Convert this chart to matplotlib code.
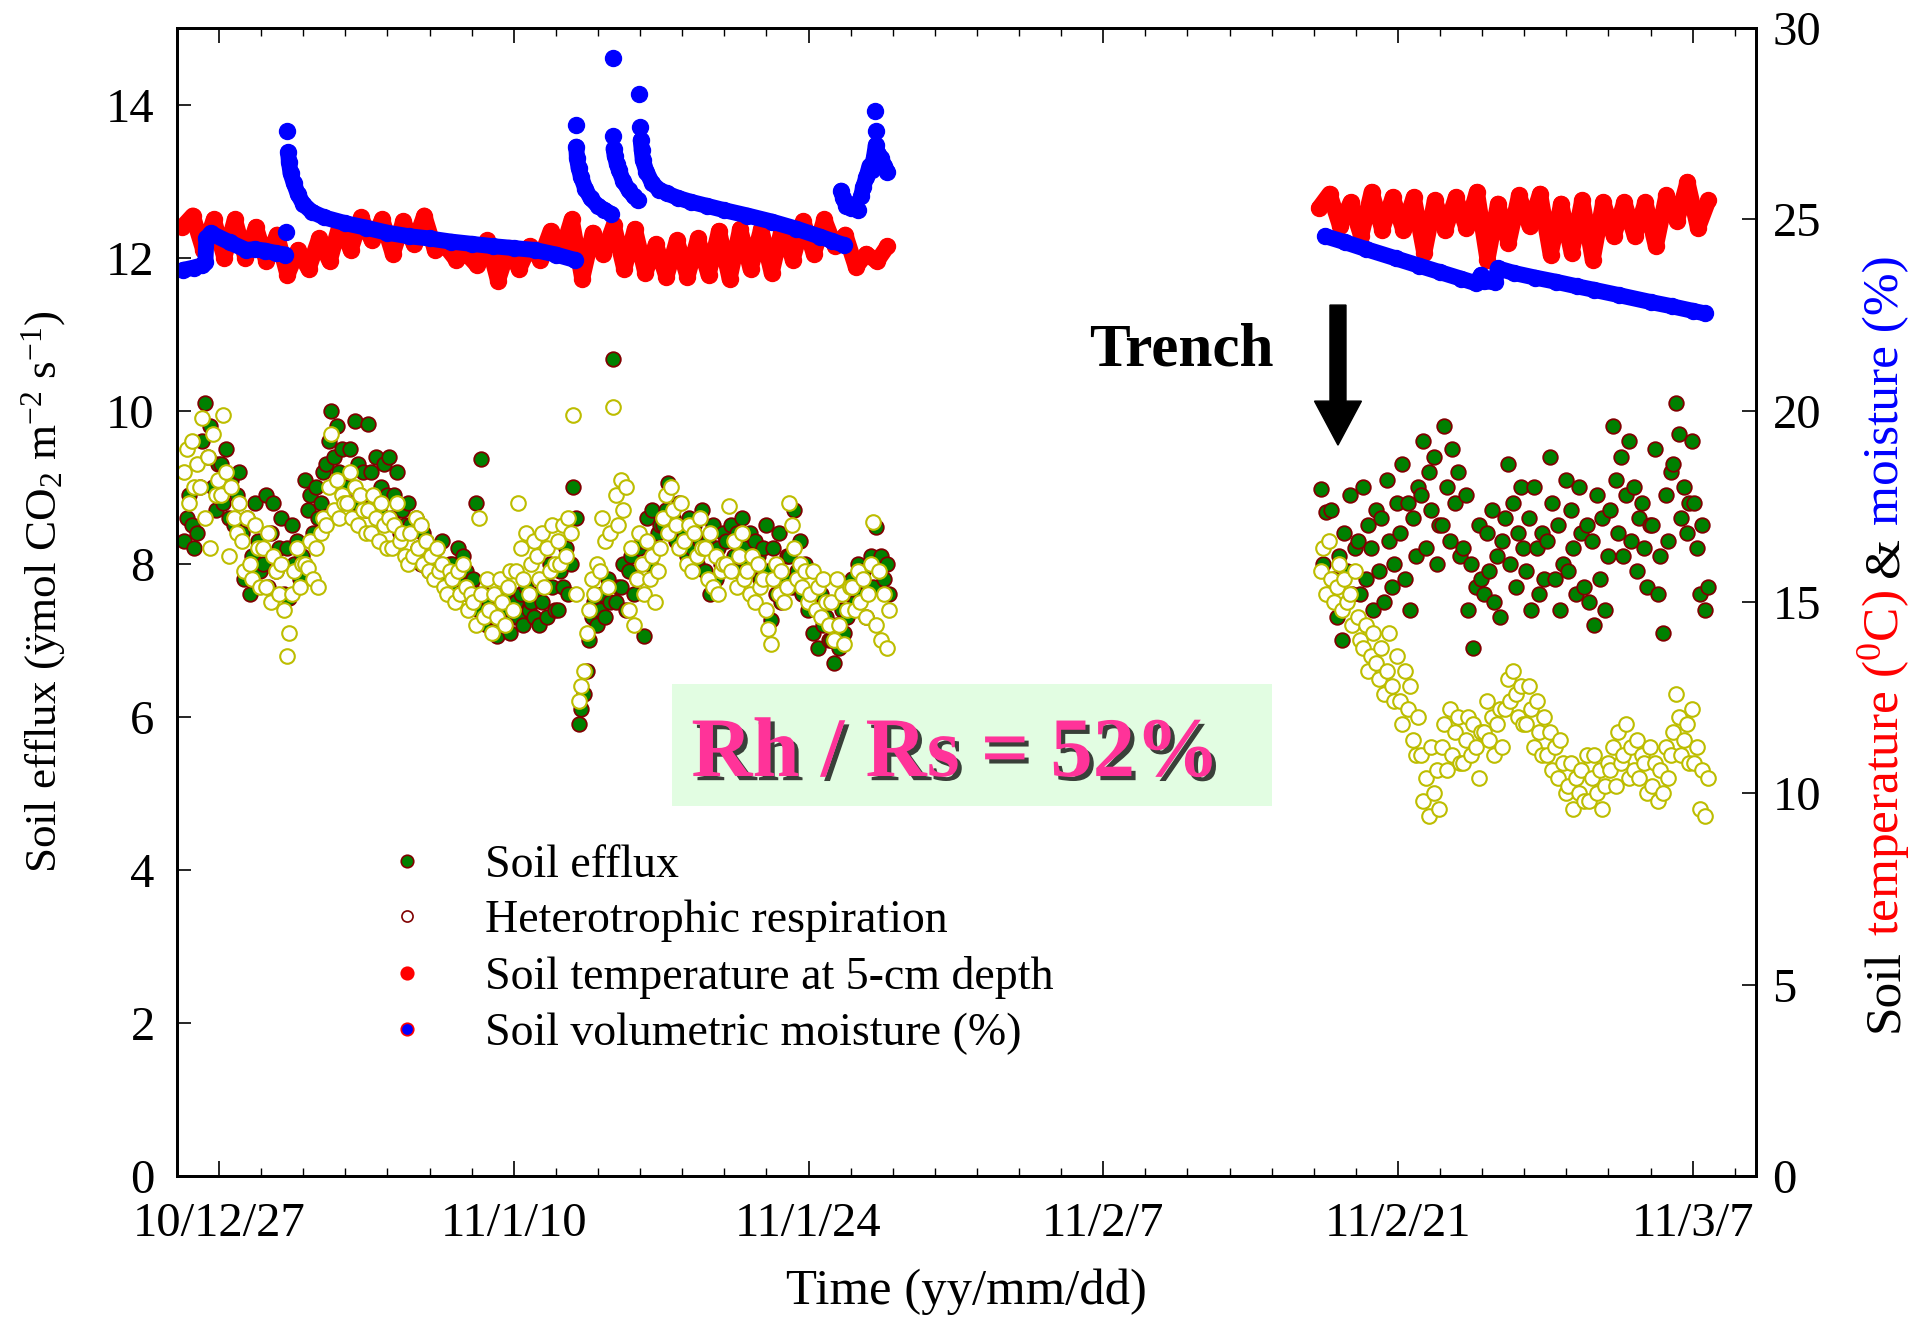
import numpy as np
import matplotlib
matplotlib.use("Agg")
import matplotlib.pyplot as plt
import matplotlib.dates as mdates
import matplotlib.patheffects as pe
from matplotlib.lines import Line2D
from matplotlib.patches import Rectangle, FancyArrow
from matplotlib.ticker import FixedLocator, FuncFormatter

plt.rcParams['font.family'] = ['Liberation Serif', 'DejaVu Serif']
plt.rcParams['mathtext.fontset'] = 'custom'
plt.rcParams['mathtext.rm'] = 'Liberation Serif'
plt.rcParams['mathtext.it'] = 'Liberation Serif:italic'
plt.rcParams['mathtext.bf'] = 'Liberation Serif:bold'

nan = np.nan

# day 0 of the record = 2010-12-25 00:00
start_date = '2010-12-25'

# soil temperature at 5 cm (deg C), one reading every 12 h from 06:00
temp_1 = [24.8,
          25.1, 24.2, 25.0, 24.0, 25.0, 24.0, 24.8, 23.9, 24.6, 23.55,
          24.2, 23.7, 24.5, 23.9, 24.9, 24.2, 25.05, 24.45, 25.0, 24.1,
          24.95, 24.35, 25.1, 24.2, 24.3, 23.95, 24.1, 23.8, 24.45, 23.4,
          24.25, 23.7, 24.3, 23.95, 24.7, 24.1, 25.0, 23.45, 24.65, 24.1,
          24.85, 23.7, 24.75, 23.6, 24.35, 23.5, 24.45, 23.5, 24.5, 23.55,
          24.7, 23.45, 24.75, 23.7, 24.75, 23.6, 24.8, 23.95, 24.95, 24.1,
          25.0, 24.3, 24.6, 23.75, 24.1, 23.9,
          24.3]
temp_1_start = 0.25
temp_2 = [25.3,
          25.67, 24.82, 25.45, 24.56, 25.72, 24.73, 25.58, 24.73, 25.58, 24.12,
          25.5, 24.73, 25.58, 24.77, 25.72, 23.95, 25.41, 24.38, 25.63, 24.82,
          25.67, 24.08, 25.41, 24.12, 25.5, 23.95, 25.45, 24.56, 25.45, 24.56,
          25.45, 24.3, 25.63, 24.95, 25.98, 24.77, 25.5]
temp_2_start = 54.25

# soil volumetric moisture (%), irregular record; nan separates the runs
moist_day_1 = [0.3, 0.8, 1.2, 1.35, 1.4, 1.6, 2.5, 3.3, 3.7, 4.2, 4.7, 5.15, nan,
               5.2, nan,
               5.25, nan,
               5.28, 5.32, 5.4, 5.55, 5.75, 6.0, 6.4, 7.0, 8.0, 9.0, 10.0, 11.0,
               12.0, 13.0, 14.0, 15.0, 16.0, 17.0, 18.0, 18.9, nan,
               18.95, nan,
               18.97, 19.0, 19.08, 19.2, 19.4, 19.65, 20.0, 20.3, 20.6, nan,
               20.7, nan,
               20.72, nan,
               20.74, 20.8, 20.9, 21.0, 21.2, 21.45, 21.7, 21.9, nan,
               21.97, nan,
               22.0, nan,
               22.03, 22.08, 22.13, 22.3, 22.58, 22.9, 23.27, 23.8, 24.4, 25.2,
               26.0, 27.1, 28.27, 29.4, 30.54, 31.1, 31.68, nan,
               31.55, 31.65, 31.8, 32.0, 32.2, 32.35, nan,
               32.5, 32.6, 32.75, 32.9, 33.0, 33.1, 33.2, 33.3, 33.45, 33.6, 33.75, nan,
               33.2, nan,
               33.15]
moist_1 = [23.68, 23.74, 23.8, 23.88, 24.5, 24.64, 24.4, 24.2, 24.22, 24.18, 24.12, 24.08, nan,
           24.68, nan,
           27.31, nan,
           26.75, 26.5, 26.2, 25.95, 25.65, 25.4, 25.2, 25.05, 24.9, 24.78, 24.65, 24.56,
           24.5, 24.42, 24.36, 24.3, 24.25, 24.2, 24.08, 23.94, nan,
           27.47, nan,
           26.9, 26.6, 26.35, 26.1, 25.8, 25.55, 25.35, 25.25, 25.15, nan,
           29.23, nan,
           27.18, nan,
           26.85, 26.65, 26.45, 26.28, 26.0, 25.77, 25.6, 25.5, nan,
           28.28, nan,
           27.42, nan,
           27.07, 26.8, 26.55, 26.25, 25.94, 25.78, 25.68, 25.56, 25.46, 25.35,
           25.24, 25.1, 24.94, 24.76, 24.55, 24.44, 24.33, nan,
           25.75, 25.55, 25.35, 25.3, 25.4, 25.25, nan,
           25.6, 25.85, 26.1, 26.4, 26.3, 26.6, 26.95, 26.7, 26.6, 26.4, 26.25, nan,
           27.3, nan,
           27.83]
moist_day_2 = [54.55, 55.5, 56.5, 57.9, 59.0, 60.0, 61.0, 61.7, 61.95, 62.1, 62.6,
               62.75, 63.5, 64.5, 65.5, 66.5, 67.3, 68.5, 70.0, 71.0, 72.0, 72.6]
moist_2 = [24.56, 24.4, 24.22, 23.98, 23.79, 23.62, 23.45, 23.33, 23.55, 23.38, 23.36,
           23.72, 23.6, 23.48, 23.37, 23.25, 23.16, 23.02, 22.84, 22.73, 22.61, 22.54]

# soil efflux (Rs) and heterotrophic respiration (Rh), every 3 h from 08:00
rs_1 = [8.3, 8.6, 8.9, 8.5, 8.2, 8.4,
        9.0, 9.6, 10.1, 9.4, 9.8, 9.0, 8.7, 9.3,
        9.3, 8.8, 9.5, 8.6, 9.1, 8.5, 8.9, 9.2,
        8.4, 7.8, 8.6, 7.6, 8.1, 8.8, 8.3, 7.9,
        8.0, 8.9, 7.7, 8.4, 8.8, 7.9, 8.2, 8.6,
        7.6, 8.2, 7.55, 8.5, 8.0, 8.3, 7.8, 8.1,
        9.1, 8.7, 8.9, 8.4, 9.0, 8.6, 8.8, 9.2,
        9.3, 9.6, 10.0, 9.4, 9.8, 9.2, 9.5, 9.0,
        9.0, 9.5, 8.8, 9.86, 9.3, 8.9, 9.2, 8.7,
        9.83, 9.2, 8.8, 9.4, 8.7, 9.0, 9.3, 8.9,
        9.4, 8.6, 8.9, 9.2, 8.4, 8.7, 8.5, 8.8,
        8.5, 8.1, 8.6, 8.2, 8.0, 8.4, 8.3, 7.9,
        8.1, 7.9, 8.2, 8.0, 8.3, 7.95, 7.8, 8.0,
        8.0, 7.7, 8.2, 7.8, 8.1, 7.9, 7.6, 7.7,
        7.8, 8.8, 7.4, 9.37, 7.6, 7.2, 7.5, 7.3,
        7.3, 7.05, 7.5, 7.2, 7.6, 7.4, 7.1, 7.3,
        7.5, 7.3, 7.6, 7.2, 7.7, 7.4, 7.5, 7.3,
        7.6, 7.2, 7.5, 7.8, 7.3, 8.0, 7.7, 7.4,
        7.4, 7.9, 7.7, 8.2, 7.6, 8.0, 9.0, 8.6,
        5.9, 6.1, 6.3, 6.6, 7.0, 7.3, 7.5, 7.2,
        7.4, 7.6, 7.3, 7.8, 7.5, 10.68, 7.5, 7.7,
        7.7, 8.0, 7.4, 7.9, 8.1, 7.6, 7.8, 8.2,
        8.3, 7.05, 8.6, 8.0, 8.7, 8.2, 8.4, 8.5,
        8.5, 8.7, 9.05, 8.4, 8.6, 8.3, 8.8, 8.2,
        8.4, 8.1, 8.6, 8.2, 8.5, 8.0, 8.3, 8.7,
        7.9, 8.3, 7.6, 8.5, 7.8, 8.2, 8.0, 8.4,
        8.3, 8.0, 8.5, 8.1, 8.4, 7.9, 8.6, 8.2,
        8.0, 8.4, 7.9, 8.3, 8.1, 7.8, 8.2, 8.5,
        7.9, 7.26, 8.2, 7.6, 8.4, 7.5, 7.8, 8.1,
        8.1, 7.7, 8.7, 7.9, 8.3, 7.6, 8.0, 7.4,
        7.5, 7.1, 7.4, 6.9, 7.6, 7.2, 7.3, 7.0,
        7.0, 6.7, 7.2, 6.9, 7.4, 7.1, 7.3, 7.6,
        7.8, 7.5, 8.0, 7.6, 7.9, 7.3, 7.7, 8.1,
        7.7, 8.48, 7.9, 8.1, 7.8, 8.0, 7.6]
rh_1 = [9.2, 9.5, 8.8, 9.6, 9.0, 9.3,
        9.0, 9.9, 8.6, 9.4, 8.2, 9.7, 8.9, 9.1,
        8.9, 9.95, 9.2, 8.1, 9.0, 8.6, 8.4, 8.8,
        8.3, 7.9, 8.6, 8.0, 7.8, 8.5, 8.2, 7.7,
        8.2, 7.7, 8.4, 7.5, 8.1, 7.9, 7.6, 8.0,
        7.4, 6.8, 7.1, 7.6, 7.9, 8.2, 7.7, 8.0,
        8.0, 7.95, 8.3, 7.8, 8.2, 7.7, 8.4, 8.6,
        8.5, 9.0, 9.7, 8.7, 9.1, 8.6, 8.9, 8.8,
        8.8, 9.2, 8.6, 9.0, 8.5, 8.9, 8.7, 8.4,
        8.7, 8.4, 8.9, 8.6, 8.3, 8.8, 8.5, 8.2,
        8.6, 8.2, 8.5, 8.8, 8.3, 8.4, 8.1, 8.0,
        8.4, 8.1, 8.6, 8.2, 8.5, 8.0, 8.3, 7.9,
        8.1, 7.8, 8.2, 7.9, 8.0, 7.7, 7.6, 7.9,
        7.8, 7.5, 7.9, 7.6, 8.0, 7.7, 7.4, 7.6,
        7.5, 7.2, 8.6, 7.6, 7.3, 7.8, 7.4, 7.1,
        7.6, 7.3, 7.8, 7.5, 7.2, 7.7, 7.9, 7.4,
        7.9, 8.8, 8.2, 7.8, 8.4, 7.6, 8.0, 8.3,
        8.1, 7.8, 8.4, 7.7, 8.2, 7.9, 8.5, 8.0,
        8.3, 8.0, 8.5, 8.1, 8.6, 8.4, 9.95, 7.6,
        6.2, 6.4, 6.6, 7.1, 7.4, 7.8, 7.6, 8.0,
        7.9, 8.6, 8.3, 7.7, 8.4, 10.05, 8.9, 8.5,
        9.1, 8.7, 9.0, 7.4, 8.2, 7.2, 7.8, 8.4,
        8.0, 7.6, 8.3, 7.8, 8.1, 7.5, 7.9, 8.2,
        8.6, 8.9, 8.4, 9.0, 8.7, 8.5, 8.2, 8.8,
        8.3, 8.0, 8.5, 7.9, 8.4, 8.1, 8.6, 8.2,
        8.2, 7.8, 8.4, 7.7, 8.1, 7.6, 7.9, 8.0,
        8.0, 8.75, 7.9, 8.3, 7.7, 8.1, 8.4, 7.8,
        7.9, 7.6, 8.1, 7.5, 8.0, 7.7, 7.8, 7.4,
        7.15, 6.95, 7.8, 8.0, 7.6, 7.9, 7.5, 7.7,
        8.8, 8.5, 8.2, 7.8, 8.0, 7.7, 7.9, 7.5,
        7.6, 7.9, 7.4, 7.7, 7.3, 7.8, 7.5, 7.2,
        7.5, 7.0, 7.8, 7.2, 7.6, 6.95, 7.4, 7.7,
        7.7, 7.4, 7.9, 7.5, 7.8, 7.3, 7.6, 8.0,
        8.55, 7.2, 7.9, 7.0, 7.6, 6.9, 7.4]
flux_1_start = 8 / 24

rs_2 = [8.98, 8.0, 8.68, 7.6, 8.7, 7.8,
        7.3, 8.1, 7.0, 8.4, 7.9, 8.9, 7.6, 8.2,
        8.3, 7.6, 9.0, 7.8, 8.5, 8.2, 7.4, 8.7,
        7.9, 8.6, 7.5, 9.1, 8.3, 7.7, 8.0, 8.8,
        8.4, 9.3, 7.8, 8.8, 7.4, 8.6, 8.1, 9.0,
        8.9, 9.6, 8.2, 9.2, 8.7, 9.4, 8.0, 8.5,
        8.5, 9.8, 9.0, 8.3, 9.5, 8.8, 9.2, 8.1,
        8.2, 8.9, 7.4, 8.0, 6.9, 7.7, 8.5, 7.8,
        7.6, 8.4, 7.9, 8.7, 7.5, 8.1, 7.3, 8.3,
        8.6, 9.3, 8.0, 8.8, 7.7, 8.4, 9.0, 8.2,
        7.9, 8.6, 7.4, 9.0, 8.2, 7.6, 8.4, 7.8,
        8.3, 9.4, 8.8, 7.8, 8.5, 7.4, 8.0, 9.1,
        7.9, 8.7, 8.2, 7.6, 9.0, 8.4, 7.7, 8.5,
        7.5, 8.3, 7.2, 8.9, 7.8, 8.6, 7.4, 8.1,
        8.7, 9.8, 9.1, 8.4, 9.4, 8.1, 8.9, 9.6,
        8.3, 9.0, 7.9, 8.6, 8.8, 8.2, 7.7, 8.5,
        8.5, 9.5, 7.6, 8.1, 7.1, 8.9, 8.3, 9.2,
        9.3, 10.1, 9.7, 8.6, 9.0, 8.4, 8.8, 9.6,
        8.8, 8.2, 7.6, 8.5, 7.4, 7.7]
rh_2 = [7.9, 8.2, 7.6, 8.3, 7.8, 7.5,
        7.7, 8.0, 7.4, 7.8, 7.5, 7.6, 7.2, 7.9,
        7.3, 7.0, 6.9, 7.2, 6.6, 6.8, 7.1, 6.7,
        6.5, 6.9, 6.3, 6.6, 7.1, 6.4, 6.2, 6.8,
        6.2, 5.9, 6.6, 6.1, 6.4, 5.7, 5.5, 6.0,
        5.5, 4.9, 5.2, 4.7, 5.6, 5.0, 5.3, 4.8,
        5.6, 5.9, 5.3, 6.1, 5.5, 5.8, 6.0, 5.4,
        5.4, 5.7, 6.0, 5.5, 5.9, 5.6, 5.2, 5.8,
        5.8, 6.2, 5.7, 6.0, 5.5, 5.9, 6.1, 5.6,
        6.1, 6.5, 6.2, 6.6, 6.3, 6.0, 6.4, 5.9,
        5.9, 6.4, 6.1, 5.6, 6.2, 5.8, 5.5, 6.0,
        5.5, 5.8, 5.3, 5.6, 5.2, 5.7, 5.4, 5.0,
        5.1, 5.4, 4.8, 5.2, 5.0, 5.3, 4.9, 5.5,
        4.9, 5.2, 5.5, 5.0, 5.3, 4.8, 5.1, 5.4,
        5.3, 5.6, 5.1, 5.8, 5.4, 5.5, 5.9, 5.2,
        5.6, 5.3, 5.7, 5.2, 5.5, 5.4, 5.0, 5.6,
        5.1, 5.4, 4.9, 5.3, 5.0, 5.6, 5.2, 5.5,
        5.8, 6.3, 6.0, 5.5, 5.7, 5.9, 5.4, 6.1,
        5.4, 5.6, 4.8, 5.3, 4.7, 5.2]
flux_2_start = 54 + 8 / 24

trench_day = 55.15

GREEN = '#008000'
MAROON = '#800000'
OLIVE = '#bdbd00'
PINK = '#ff3399'

base = mdates.date2num(np.datetime64(start_date))


def grid(start, n, per_day):
    # regular logging times as matplotlib date numbers
    return base + start + np.arange(n) / per_day


fig = plt.figure(figsize=(19.15, 13.17), dpi=100)
ax = fig.add_axes([0.0924, 0.1071, 0.8245, 0.8716])
ax2 = ax.twinx()

# efflux on the left axis
dot_kw = dict(ls='none', ms=10.5)
ax.plot(grid(flux_1_start, len(rs_1), 8), rs_1, 'o', mfc=GREEN, mec=MAROON, mew=1.3, **dot_kw)
ax.plot(grid(flux_2_start, len(rs_2), 8), rs_2, 'o', mfc=GREEN, mec=MAROON, mew=1.3, **dot_kw)
ax.plot(grid(flux_1_start, len(rh_1), 8), rh_1, 'o', mfc='white', mec=OLIVE, mew=1.5, **dot_kw)
ax.plot(grid(flux_2_start, len(rh_2), 8), rh_2, 'o', mfc='white', mec=OLIVE, mew=1.5, **dot_kw)

# temperature and moisture on the right axis
line_kw = dict(lw=11.5, ms=11.5, solid_capstyle='round', solid_joinstyle='round')
ax2.plot(grid(temp_1_start, len(temp_1), 2), temp_1, '-o', color='red', **line_kw)
ax2.plot(grid(temp_2_start, len(temp_2), 2), temp_2, '-o', color='red', **line_kw)
ax2.plot(base + np.array(moist_day_1), moist_1, '-o', color='blue', **line_kw)
ax2.plot(base + np.array(moist_day_2), moist_2, '-o', color='blue', **line_kw)

# axes, ticks
ax.set_xlim(base, base + 75)
ax.set_ylim(0, 15)
ax2.set_ylim(0, 30)
ax.set_yticks(np.arange(0, 15, 2))
ax2.set_yticks(np.arange(0, 31, 5))
ax.xaxis.set_major_locator(FixedLocator(base + 2 + 14 * np.arange(6)))
ax.xaxis.set_minor_locator(FixedLocator(base + 2 * np.arange(38)))


def date_label(x, pos):
    d = mdates.num2date(x)
    return f"{d.year % 100}/{d.month}/{d.day}"


ax.xaxis.set_major_formatter(FuncFormatter(date_label))

ax.tick_params(axis='x', which='major', direction='in', length=11, width=1.2,
               top=True, labelsize=35, pad=19)
ax.tick_params(axis='x', which='minor', direction='in', length=5.5, width=1.0, top=True)
ax.tick_params(axis='y', which='major', direction='in', length=10, width=1.2,
               right=False, labelsize=35, pad=16)
ax2.tick_params(axis='y', which='major', direction='in', length=10, width=1.2,
                labelsize=35, pad=12)
for a in (ax, ax2):
    for s in a.spines.values():
        s.set_linewidth(2.0)

ax.set_xlabel('Time (yy/mm/dd)', fontsize=36.5)
ax.xaxis.set_label_coords(0.5, -0.081)
ax.set_ylabel('Soil efflux (ÿmol CO$_2$ m$^{-2}$ s$^{-1}$)', fontsize=32.5)
ax.yaxis.set_label_coords(-0.069, 0.509)

# right-hand label in three colours, stacked bottom to top
label_parts = [('Soil', 'black'), ('temperature ($^{0}$C)', 'red'),
               ('&', 'black'), ('moisture (%)', 'blue')]
renderer = fig.canvas.get_renderer()
W, H = fig.bbox.width, fig.bbox.height
y_px = 1032
gap = 0.25 * 37 * fig.dpi / 72
for txt, col in label_parts:
    t = fig.text(1898 / W, 1 - y_px / H, txt, color=col, fontsize=37,
                 rotation=90, rotation_mode='anchor', ha='left', va='baseline')
    y_px -= t.get_window_extent(renderer).height + gap

# legend
handles = [
    Line2D([], [], marker='o', ls='none', ms=9, mfc=GREEN, mec=MAROON, mew=1.2),
    Line2D([], [], marker='o', ls='none', ms=8, mfc='white', mec=MAROON, mew=1.2),
    Line2D([], [], marker='o', ls='none', ms=9, mfc='red', mec='red', mew=1.2),
    Line2D([], [], marker='o', ls='none', ms=9, mfc='blue', mec='red', mew=1.2),
]
labels = ['Soil efflux', 'Heterotrophic respiration',
          'Soil temperature at 5-cm depth', 'Soil volumetric moisture (%)']
ax.legend(handles, labels, loc='upper left', bbox_to_anchor=(0.1311, 0.289),
          frameon=False, fontsize=33, handlelength=1.0, handletextpad=1.2,
          labelspacing=0.29, borderpad=0, borderaxespad=0)

# Rh / Rs annotation
ax.add_patch(Rectangle((0.3135, 0.3223), 0.380, 0.1063, transform=ax.transAxes,
                       facecolor='#e2fde2', edgecolor='none', zorder=1))
ax.text(0.4933, 0.3484, 'Rh / Rs = 52%', transform=ax.transAxes, ha='center',
        va='baseline', fontsize=61, fontweight='bold', color=PINK, zorder=5,
        path_effects=[pe.withSimplePatchShadow(offset=(3, -3), shadow_rgbFace='black',
                                               alpha=0.75)])

# trenching marker
ax.text(0.6358, 0.7056, 'Trench', transform=ax.transAxes, ha='center',
        va='baseline', fontsize=44, fontweight='bold')
ax.add_patch(FancyArrow(base + trench_day, 11.38, 0, 9.55 - 11.38, width=0.76,
                        head_width=2.23, head_length=0.575, length_includes_head=True,
                        color='black'))

fig.savefig('out.png', dpi=100)
